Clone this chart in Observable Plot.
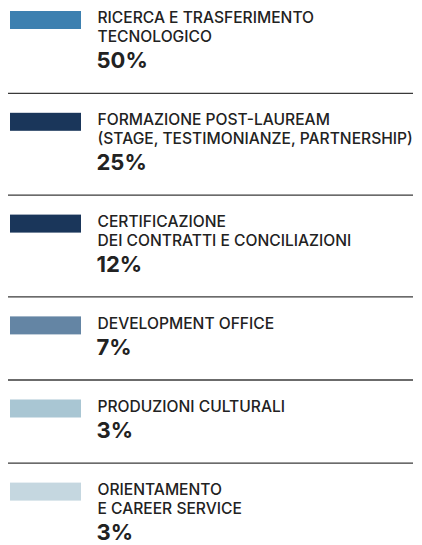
<!DOCTYPE html>
<html>
<head>
<meta charset="utf-8">
<script src="https://cdn.jsdelivr.net/npm/d3@7"></script>
<script src="https://cdn.jsdelivr.net/npm/@observablehq/plot@0.6"></script>
<style>
  html, body { margin: 0; padding: 0; background: #fff; }
  #chart svg { display: block; }
</style>
</head>
<body>
<div id="chart"></div>
<script>
// ---- data ----
const categories = [
  "RICERCA E TRASFERIMENTO\nTECNOLOGICO",
  "FORMAZIONE POST-LAUREAM\n(STAGE, TESTIMONIANZE, PARTNERSHIP)",
  "CERTIFICAZIONE\nDEI CONTRATTI E CONCILIAZIONI",
  "DEVELOPMENT OFFICE",
  "PRODUZIONI CULTURALI",
  "ORIENTAMENTO\nE CAREER SERVICE"
];
const values = [50, 25, 12, 7, 3, 3];
const palette = ["#3d80b0", "#1a365a", "#1a365a", "#6485a4", "#a9c6d3", "#c5d7e0"];

// ---- layout (pixel space) ----
const W = 422, H = 545;
const labelFs = 15.6, pctFs = 22;
const LH = 18.7;
const rows = [], lines = [], seps = [];
let yTop = 11;
categories.forEach((cat, i) => {
  const parts = cat.split("\n");
  const b1 = yTop + 12.3;
  parts.forEach((t, k) => lines.push({text: t, base: b1 + k * LH}));
  const pctBase = b1 + (parts.length - 1) * LH + 26.3;
  rows.push({category: cat, value: values[i], y0: yTop, pctBase});
  if (i < categories.length - 1) {
    const sep = pctBase + 24.5;
    seps.push(sep);
    yTop = sep + 20;
  }
});

const chart = Plot.plot({
  width: W,
  height: H,
  margin: 0,
  x: {domain: [0, W], range: [0, W], axis: null},
  y: {domain: [0, H], range: [0, H], axis: null},
  color: {domain: categories, range: palette},
  marks: [
    Plot.rect(rows, {
      x1: () => 10, x2: () => 81,
      y1: "y0", y2: d => d.y0 + 18,
      fill: "category"
    }),
    Plot.text(lines, {
      x: () => 97, y: d => d.base - 0.73 * labelFs,
      text: "text", textAnchor: "start", lineAnchor: "top",
      fontSize: labelFs, fontFamily: "Inter", fontWeight: 500, fill: "#222"
    }),
    Plot.text(rows, {
      x: () => 96, y: d => d.pctBase - 0.73 * pctFs,
      text: d => d.value + "%", textAnchor: "start", lineAnchor: "top",
      fontSize: pctFs, fontFamily: "Inter", fontWeight: 700, fill: "#222"
    }),
    Plot.ruleY(seps, {x1: () => 8, x2: () => 413, stroke: "#3a3a3a", strokeWidth: 1.3})
  ]
});
document.getElementById("chart").append(chart);
</script>
</body>
</html>
